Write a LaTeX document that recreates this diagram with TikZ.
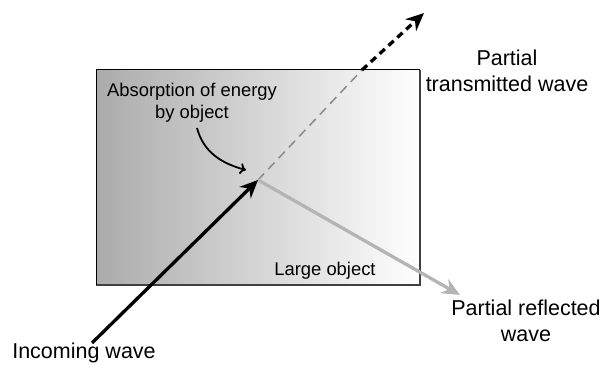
\documentclass[tikz,border=0pt]{standalone}
\usepackage{fontspec}
\setmainfont{Liberation Sans}
\usepackage{xcolor}
\usetikzlibrary{arrows.meta,positioning}
\definecolor{objdark}{HTML}{ABABAB}
\definecolor{refc}{HTML}{B4B4B4}
\definecolor{trc}{HTML}{8A8A8A}
\tikzset{
  wv/.style={-{Stealth[length=18pt,width=16pt]},line width=3.3pt},
  lbl/.style={align=center,inner sep=0pt,font=\fontsize{21.5}{26}\selectfont},
  inlbl/.style={align=center,inner sep=0pt,font=\fontsize{18.4}{22}\selectfont}
}

\begin{document}
\begin{tikzpicture}[x=1pt,y=1pt]
\useasboundingbox (0,0) rectangle (605,369);
\shade[left color=objdark,right color=white] (96,84) rectangle (420,299);
\draw[gray!50!black,line width=1.6pt] (96,84) -- (420,84) -- (420,299);
\draw[black,line width=1pt] (96,84) -- (96,299) -- (420,299);
\coordinate (hit) at (258,189);
\coordinate (src) at (92,26);
\coordinate (edge) at (362,299);
\coordinate (tip) at (424,356);
\coordinate (refl) at (460,74);
\node[inlbl] (absorb) at (192,266) {Absorption of energy\\by object};
\node[inlbl] (large) at (325,98) {Large object};
\node[lbl,anchor=base] (trans) at (507,277) {Partial\\transmitted wave};
\node[lbl,anchor=base] (reflbl) at (526,27) {Partial reflected\\wave};
\node[lbl] (inc) at (84,16) {Incoming wave};
% waves
\draw[trc,line width=1.5pt,dash pattern=on 9pt off 6pt] (hit) -- (edge);
\draw[wv,dash pattern=on 7pt off 5pt] (edge) -- (tip);
\draw[wv,refc] (hit) -- (refl);
\draw[wv] (src) -- (hit);
\draw[-{To[length=6pt,width=11pt]},line width=1.8pt] (197,241) to[out=-75,in=165] (246,199);
\end{tikzpicture}
\end{document}
